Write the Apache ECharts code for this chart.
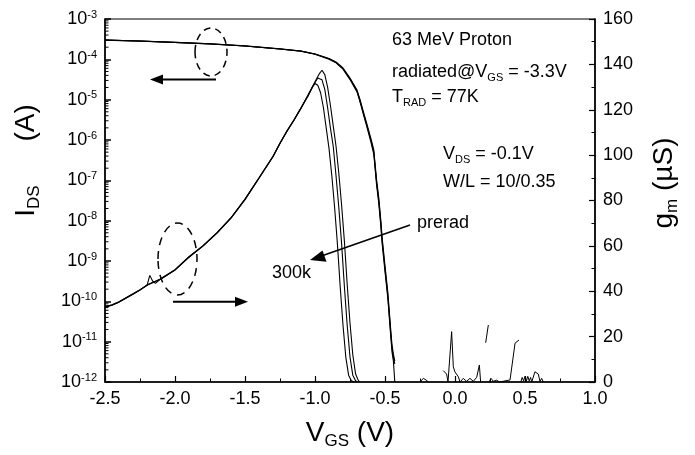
<!DOCTYPE html>
<html><head><meta charset="utf-8">
<script src="https://cdn.jsdelivr.net/npm/echarts@6/dist/echarts.min.js"></script>
<style>html,body{margin:0;padding:0;background:#fff}#c{width:695px;height:455px}</style>
</head><body><div id="c"></div>
<script>
const FONT = '"Liberation Sans", Arial, Helvetica, sans-serif';

// ---- axes ----
const xMin = -2.5, xMax = 1.0, xStep = 0.5;
const idMin = 1e-12, idMax = 1e-3;
const gmMin = 0, gmMax = 160, gmStep = 20;

// ---- I_DS curves (left, log axis) ----
const idVgs = [-2.5,-2.25,-2.0,-1.75,-1.5,-1.25,-1.1,-1.0,-0.9,-0.85,-0.8,-0.75,-0.7,-0.68,-0.65,-0.63,-0.6,-0.58,-0.56,-0.545,-0.53,-0.52,-0.5,-0.48,-0.46,-0.45,-0.44,-0.43];
const idPre  = [3.01e-4,2.85e-4,2.64e-4,2.43e-4,2.16e-4,1.82e-4,1.61e-4,1.36e-4,1.05e-4,8.6e-5,6.1e-5,3.44e-5,1.74e-5,1.04e-5,4.41e-6,2.56e-6,1.06e-6,5.65e-7,1.02e-7,3.86e-8,1.04e-8,3.65e-9,7.6e-10,1.70e-10,2.18e-11,8.3e-12,4.9e-12,3.3e-12];
const idMid  = [3.0e-4,2.84e-4,2.63e-4,2.42e-4,2.15e-4,1.81e-4,1.60e-4,1.35e-4,1.03e-4,8.4e-5,5.9e-5,3.3e-5,1.65e-5,9.8e-6,4.1e-6,2.35e-6,9.6e-7,5.0e-7,8.8e-8,3.3e-8,8.8e-9,3.1e-9,6.4e-10,1.42e-10,1.8e-11,6.8e-12,4.0e-12,2.8e-12];
const id300k = [2.99e-4,2.83e-4,2.62e-4,2.41e-4,2.14e-4,1.80e-4,1.59e-4,1.34e-4,1.01e-4,8.2e-5,5.7e-5,3.15e-5,1.56e-5,9.2e-6,3.8e-6,2.15e-6,8.7e-7,4.4e-7,7.6e-8,2.8e-8,7.5e-9,2.6e-9,5.4e-10,1.2e-10,1.5e-11,5.6e-12,3.3e-12,1.0e-12];

// ---- g_m curves (right, linear axis, uS) ----
const gmVgsPre = [-2.5,-2.45,-2.4,-2.3,-2.25,-2.2,-2.1,-2.0,-1.9,-1.8,-1.7,-1.6,-1.5,-1.4,-1.3,-1.25,-1.2,-1.15,-1.1,-1.05,-1.0,-0.97,-0.95,-0.93,-0.91,-0.89,-0.87,-0.85,-0.83,-0.81,-0.79,-0.77,-0.75,-0.73,-0.71,-0.69,-0.68];
const gmPre    = [33.1,33.9,35.3,38.8,40.6,42.8,45.5,49.4,55.1,60.0,65.7,72.3,80.5,89.9,99.4,105.2,110.6,115.5,120.8,126.5,132.3,135.8,137.4,135.5,130,122,113,104,92,78,62,43,26,12,3.5,0.6,0];
const gmVgsMid = [-2.5,-2.45,-2.4,-2.3,-2.25,-2.2,-2.1,-2.0,-1.9,-1.8,-1.7,-1.6,-1.5,-1.4,-1.3,-1.25,-1.2,-1.15,-1.1,-1.05,-1.0,-0.98,-0.97,-0.95,-0.93,-0.91,-0.89,-0.87,-0.85,-0.83,-0.81,-0.79,-0.77,-0.75,-0.73,-0.71,-0.70];
const gmMid    = [33.0,33.8,35.2,38.7,40.5,42.7,45.4,49.3,55.0,59.9,65.6,72.2,80.4,89.8,99.3,105.1,110.5,115.4,120.6,126.3,132.0,134.0,134.5,133.2,129,121,112,104,91,77,61,42,25,11,3,0.6,0];
const gmVgs300k = [-2.5,-2.45,-2.4,-2.3,-2.25,-2.2,-2.18,-2.16,-2.14,-2.1,-2.0,-1.9,-1.8,-1.7,-1.6,-1.5,-1.4,-1.3,-1.25,-1.2,-1.15,-1.1,-1.05,-1.02,-1.0,-0.98,-0.96,-0.94,-0.92,-0.90,-0.88,-0.86,-0.84,-0.82,-0.80,-0.78,-0.76,-0.74,-0.72];
const gm300k     = [33.2,34.0,35.4,38.9,40.7,42.5,47.0,44.5,43.5,45.6,49.5,55.2,60.1,65.8,72.4,80.6,90.0,99.5,105.3,110.7,115.6,120.9,126.0,129.8,131.6,130.8,127.5,121,112,103,91,77,61,42,25,11,3,0.6,0];

// ---- g_m noise after turn-off (null = gap) ----
const noiseVgs = [-0.25,-0.226,-0.207,-0.19,-0.12,-0.084,-0.06,-0.05,-0.036,-0.024,-0.017,-0.012,-0.001,0.024,0.036,0.059,0.083,0.107,0.131,0.155,0.174,0.183,0.2,0.219,0.238,0.24,0.243,0.257,0.274,0.298,0.317,0.393,0.429,0.457,0.46,0.47,0.48,0.49,0.5,0.51,0.52,0.53,0.54,0.548,0.571,0.584,0.595,0.607,0.619,0.631];
const noiseGm  = [0,1.6,0.9,0,null,5.0,3.5,0,0.5,22.2,21.4,6.7,4.5,2.3,0,1.6,0.3,1.6,0.3,2.1,7.5,0,null,17.3,25.1,null,0,1.6,0.3,0.8,0,0.9,17.1,18.5,null,0,2,0.5,2.5,0.5,2.5,0.5,2,0,4.5,5.3,3.5,0.3,1.6,0];

const pairs = (xs, ys) => xs.map((x, i) => [x, ys[i] == null ? '-' : ys[i]]);

// true log minor ticks (2..9 x 10^n)
const minorLog = [];
for (let e = -12; e < -3; e++) for (let m = 2; m <= 9; m++) minorLog.push([xMin, m * Math.pow(10, e)]);

const lineS = (name, data, yIdx) => ({
  name, type: 'line', data, yAxisIndex: yIdx, showSymbol: false, symbol: 'none',
  lineStyle: { color: '#000', width: 1.1 }, connectNulls: false, animation: false, z: 3
});

const chart = echarts.init(document.getElementById('c'), null, { renderer: 'canvas' });
const txt = { color: '#000', fontFamily: FONT, fontSize: 18 };
const tick = (len, w) => ({ show: true, inside: true, length: len, lineStyle: { color: '#000', width: w } });
const mtick = { show: true, splitNumber: 2, length: 3.5, lineStyle: { color: '#000', width: 1 } };

chart.setOption({
  animation: false,
  backgroundColor: '#fff',
  grid: { left: 105, right: 100, top: 19, bottom: 73, show: true, borderColor: '#000', borderWidth: 1.2, backgroundColor: 'transparent' },
  xAxis: {
    type: 'value', min: xMin, max: xMax, interval: xStep,
    axisLine: { show: true, onZero: false, lineStyle: { color: '#000', width: 1.5 } },
    axisTick: tick(6, 1.2),
    minorTick: mtick,
    splitLine: { show: false },
    axisLabel: Object.assign({ margin: 8, formatter: v => v.toFixed(1) }, txt)
  },
  yAxis: [{
    type: 'log', logBase: 10, min: idMin, max: idMax, position: 'left',
    axisLine: { show: true, onZero: false, lineStyle: { color: '#000', width: 1.5 } },
    axisTick: tick(6, 1.5),
    splitLine: { show: false },
    axisLabel: {
      margin: 8, color: '#000',
      formatter: v => '{b|10}{s|' + Math.round(Math.log10(v)) + '}',
      rich: { b: { fontSize: 18, fontFamily: FONT, color: '#000' }, s: { fontSize: 11, fontFamily: FONT, color: '#000', padding: [0, 0, 9, 0] } }
    }
  }, {
    type: 'value', min: gmMin, max: gmMax, interval: gmStep, position: 'right',
    axisLine: { show: true, onZero: false, lineStyle: { color: '#000', width: 1.5 } },
    axisTick: tick(6, 1.2),
    minorTick: mtick,
    splitLine: { show: false },
    axisLabel: Object.assign({ margin: 8 }, txt)
  }],
  series: [
    lineS('Id pre', pairs(idVgs, idPre), 0),
    lineS('Id mid', pairs(idVgs, idMid), 0),
    lineS('Id 300k', pairs(idVgs, id300k), 0),
    lineS('gm pre', pairs(gmVgsPre, gmPre), 1),
    lineS('gm mid', pairs(gmVgsMid, gmMid), 1),
    lineS('gm 300k', pairs(gmVgs300k, gm300k), 1),
    Object.assign(lineS('gm noise', pairs(noiseVgs, noiseGm), 1), { lineStyle: { color: '#000', width: 1 } }),
    {
      type: 'custom', xAxisIndex: 0, yAxisIndex: 0, data: minorLog, clip: false, silent: true, z: 4,
      encode: { x: 0, y: 1 },
      renderItem: (p, api) => {
        const c = api.coord([api.value(0), api.value(1)]);
        return { type: 'line', shape: { x1: c[0], y1: c[1], x2: c[0] + 3.5, y2: c[1] }, style: { stroke: '#000', lineWidth: 1, fill: null } };
      }
    }
  ]
});

// ---- annotations ----
const sub = (fs, pad) => ({ fontSize: fs, fontFamily: FONT, color: '#000', padding: [pad, 0, 0, 0] });
const T = (x, y, text, rich) => ({
  type: 'text', x, y, silent: true, z: 10,
  style: { text, fontSize: 18, fontFamily: FONT, fill: '#000', verticalAlign: 'middle', align: 'left', rich }
});

const richAnn = { a: { fontSize: 18, fontFamily: FONT, color: '#000' }, s: sub(11, 12) };
const richTitle = { a: { fontSize: 28, fontFamily: FONT, color: '#000' }, s: sub(17, 16), g: { width: 44, fontSize: 28 } };

chart.setOption({
  graphic: [
    T(392, 40, '63 MeV Proton'),
    T(392, 72, '{a|radiated@V}{s|GS}{a| = -3.3V}', richAnn),
    T(392, 97, '{a|T}{s|RAD}{a| = 77K}', richAnn),
    T(443, 154, '{a|V}{s|DS}{a| = -0.1V}', richAnn),
    T(443, 182, 'W/L = 10/0.35'),
    T(417, 223, 'prerad'),
    T(272, 273, '300k'),
    // axis titles
    { type: 'text', x: 350, y: 433, silent: true, style: { text: '{a|V}{s|GS}{a| (V)}', rich: richTitle, align: 'center', verticalAlign: 'middle', fill: '#000' } },
    { type: 'text', x: 26, y: 160.5, rotation: Math.PI / 2, silent: true, style: { text: '{a|I}{s|DS}{g| }{a|(A)}', rich: richTitle, align: 'center', verticalAlign: 'middle', fill: '#000' } },
    { type: 'text', x: 664, y: 183, rotation: Math.PI / 2, silent: true, style: { text: '{a|g}{s|m}{a| (µS)}', rich: richTitle, align: 'center', verticalAlign: 'middle', fill: '#000' } },
    // dashed ellipses
    { type: 'ellipse', shape: { cx: 211, cy: 52, rx: 16, ry: 24 }, silent: true, style: { fill: 'none', stroke: '#000', lineWidth: 1.5, lineDash: [7, 5] } },
    { type: 'ellipse', shape: { cx: 177.5, cy: 259, rx: 19.5, ry: 36 }, silent: true, style: { fill: 'none', stroke: '#000', lineWidth: 1.5, lineDash: [8, 6] } },
    // arrows
    { type: 'line', shape: { x1: 160, y1: 79.5, x2: 216, y2: 79.5 }, silent: true, style: { stroke: '#000', lineWidth: 2 } },
    { type: 'polygon', shape: { points: [[150, 79.5], [163, 74.5], [163, 84.5]] }, silent: true, style: { fill: '#000' } },
    { type: 'line', shape: { x1: 173, y1: 301.7, x2: 238, y2: 301.7 }, silent: true, style: { stroke: '#000', lineWidth: 2 } },
    { type: 'polygon', shape: { points: [[248, 301.7], [235, 296.7], [235, 306.7]] }, silent: true, style: { fill: '#000' } },
    { type: 'line', shape: { x1: 410, y1: 225, x2: 320, y2: 256.5 }, silent: true, style: { stroke: '#000', lineWidth: 1.5 } },
    { type: 'polygon', shape: { points: [[310, 260], [322.5, 250.5], [326.5, 261.8]] }, silent: true, style: { fill: '#000' } }
  ]
});
</script></body></html>
